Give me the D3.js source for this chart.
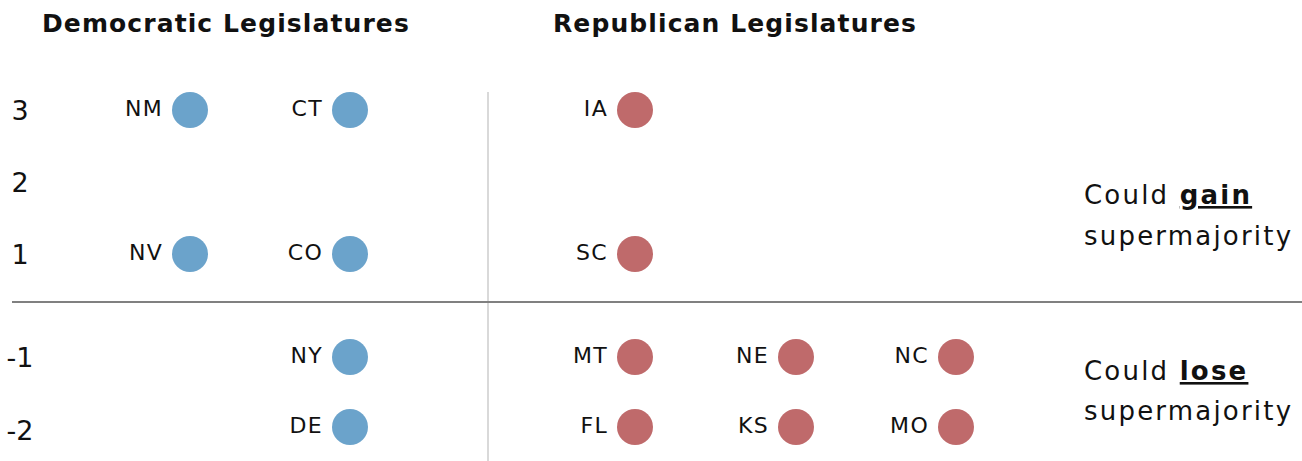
<!DOCTYPE html>
<html>
<head>
<meta charset="utf-8">
<script src="https://cdn.jsdelivr.net/npm/d3@7"></script>
<style>
  html, body { margin: 0; padding: 0; background: #fff; }
  svg text { font-family: "DejaVu Sans", sans-serif; fill: #111; }
</style>
</head>
<body>
<svg id="chart" width="1302" height="461"></svg>
<script>
(function(){

const WIDTH = 1302, HEIGHT = 461;

// columns: 0-1 democratic, 2-4 republican
const columns = [0, 1, 2, 3, 4];
const rows = [3, 2, 1, -1, -2];
const titles = ["Democratic Legislatures", "Republican Legislatures"];

const states = ["NM", "CT", "NV", "CO", "NY", "DE", "IA", "SC", "MT", "NE", "NC", "FL", "KS", "MO"];
const party  = ["D",  "D",  "D",  "D",  "D",  "D",  "R",  "R",  "R",  "R",  "R",  "R",  "R",  "R"];
const column = [0,    1,    0,    1,    1,    1,    2,    2,    2,    3,    4,    2,    3,    4];
const change = [3,    3,    1,    1,    -1,   -2,   3,    1,    -1,   -1,   -1,   -2,   -2,   -2];

const colors = { D: "#6ba3cb", R: "#bf6a6b" };

const svg = d3.select('#chart');

const x = d3.scaleLinear().domain(columns).range([190, 350, 635, 796, 956]);
const y = d3.scaleLinear().domain([3, 1, -1, -2]).range([110, 254, 357, 427]);

// titles
svg.selectAll('text.title')
  .data(titles)
  .join('text')
  .attr('class', 'title')
  .attr('x', (d, i) => i === 0 ? 42 : 553)
  .attr('y', 32)
  .attr('font-size', 25)
  .attr('font-weight', 'bold')
  .attr('letter-spacing', 1.1)
  .text(d => d);

// dividers
svg.append('line')
  .attr('x1', 488).attr('x2', 488)
  .attr('y1', 92).attr('y2', HEIGHT)
  .attr('stroke', '#d9d9d9').attr('stroke-width', 2);
svg.append('line')
  .attr('x1', 12).attr('x2', WIDTH)
  .attr('y1', 302).attr('y2', 302)
  .attr('stroke', '#808080').attr('stroke-width', 2);

// row labels
svg.selectAll('text.row')
  .data(rows)
  .join('text')
  .attr('class', 'row')
  .attr('x', 20)
  .attr('y', d => y(d) + (d === -2 ? 3 : 0))
  .attr('dy', '0.36em')
  .attr('text-anchor', 'middle')
  .attr('font-size', 27)
  .text(d => d);

const data = states.map((s, i) => ({ state: s, party: party[i], col: column[i], row: change[i] }));

const g = svg.append('g');
g.selectAll('circle')
  .data(data)
  .join('circle')
  .attr('cx', d => x(d.col))
  .attr('cy', d => y(d.row))
  .attr('r', 18)
  .attr('fill', d => colors[d.party]);

g.selectAll('text.state')
  .data(data)
  .join('text')
  .attr('class', 'state')
  .attr('x', d => x(d.col) - 27)
  .attr('y', d => y(d.row) - 2)
  .attr('dy', '0.36em')
  .attr('text-anchor', 'end')
  .attr('font-size', 22)
  .attr('letter-spacing', 1.3)
  .text(d => d.state);

// side notes
const notes = [
  { word: "gain", y1: 204, y2: 245 },
  { word: "lose", y1: 380, y2: 420 }
];
notes.forEach(n => {
  const t = svg.append('text').attr('x', 1084).attr('y', n.y1)
    .attr('font-size', 26).attr('letter-spacing', 2.2);
  t.append('tspan').text('Could ');
  t.append('tspan').attr('font-weight', 'bold').attr('text-decoration', 'underline').text(n.word);
  svg.append('text').attr('x', 1084).attr('y', n.y2)
    .attr('font-size', 26).attr('letter-spacing', 2.2).text('supermajority');
});

})();
</script>
</body>
</html>
